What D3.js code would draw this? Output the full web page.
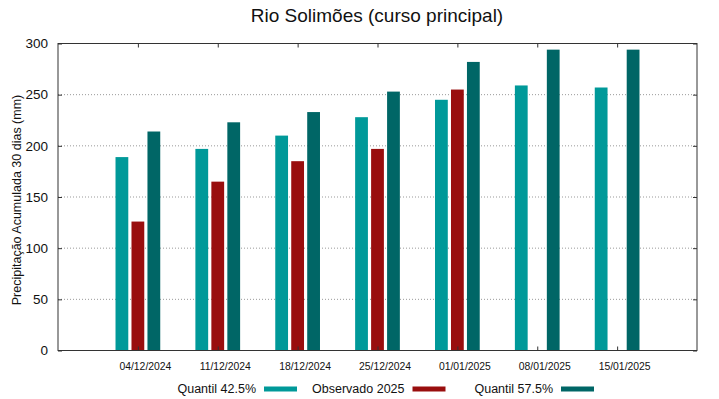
<!DOCTYPE html>
<html>
<head>
<meta charset="utf-8">
<script src="https://cdn.jsdelivr.net/npm/d3@7"></script>
<style>
    body { margin: 0; background: #fff; }
    text { font-family: "Liberation Sans", Arial, sans-serif; fill: #111; }
</style>
</head>
<body>
<div id="chart"></div>
<script>
// Data
const dates = ["04/12/2024", "11/12/2024", "18/12/2024", "25/12/2024", "01/01/2025", "08/01/2025", "15/01/2025"];
const q425 = [189, 197, 210, 228, 245, 259, 257];
const observed = [126, 165, 185, 197, 255, null, null];
const q575 = [214, 223, 233, 253, 282, 294, 294];
const yTicks = [0, 50, 100, 150, 200, 250, 300];

const series = [
    { name: "Quantil 42.5%", values: q425, color: "#009999", offset: -1 },
    { name: "Observado 2025", values: observed, color: "#990e0e", offset: 0 },
    { name: "Quantil 57.5%", values: q575, color: "#006666", offset: 1 }
];

const width = 719, height = 399;
const margin = { top: 43.5, right: 22, bottom: 48.5, left: 58 };
const font = "Liberation Sans, Arial, sans-serif";

const svg = d3.select("#chart").append("svg")
    .attr("width", width)
    .attr("height", height);

// category index scale, one slot per date with half a slot on each side
const x = d3.scaleLinear()
    .domain([-1, dates.length])
    .range([margin.left, width - margin.right]);

const y = d3.scaleLinear()
    .domain([0, 300])
    .range([height - margin.bottom, margin.top]);

const slot = x(1) - x(0);
const barStep = slot / 5;
const barWidth = barStep * 0.8;

// dotted grid
svg.append("g")
    .selectAll("line")
    .data(yTicks.filter(d => d > 0 && d < 300))
    .enter().append("line")
    .attr("x1", margin.left)
    .attr("x2", width - margin.right)
    .attr("y1", d => y(d))
    .attr("y2", d => y(d))
    .attr("stroke", "#999")
    .attr("stroke-width", 1)
    .attr("stroke-dasharray", "1,2");

// bars
series.forEach(s => {
    svg.append("g")
        .selectAll("rect")
        .data(s.values.map((v, i) => ({ v, i })).filter(d => d.v !== null))
        .enter().append("rect")
        .attr("x", d => x(d.i) + s.offset * barStep - barWidth / 2)
        .attr("width", barWidth)
        .attr("y", d => y(d.v))
        .attr("height", d => y(0) - y(d.v))
        .attr("fill", s.color);
});

// frame
svg.append("rect")
    .attr("x", margin.left)
    .attr("y", margin.top)
    .attr("width", width - margin.right - margin.left)
    .attr("height", height - margin.bottom - margin.top)
    .attr("fill", "none")
    .attr("stroke", "#333")
    .attr("stroke-width", 1);

// y axis (left labels, inward ticks both sides)
const yAxis = svg.append("g")
    .attr("transform", `translate(${margin.left},0)`)
    .call(d3.axisLeft(y).tickValues(yTicks).tickSize(-4).tickPadding(10));
yAxis.select(".domain").remove();
yAxis.selectAll("line").attr("stroke", "#333");
yAxis.selectAll("text").style("font-size", "13.5px").style("font-family", font).attr("fill", "#111");

const yAxisR = svg.append("g")
    .attr("transform", `translate(${width - margin.right},0)`)
    .call(d3.axisRight(y).tickValues(yTicks).tickSize(-4).tickFormat(""));
yAxisR.select(".domain").remove();
yAxisR.selectAll("line").attr("stroke", "#333");

// x axis: ticks inward at top and bottom, labels below (shifted right a bit like the original)
const xTop = svg.append("g")
    .attr("transform", `translate(0,${margin.top})`)
    .call(d3.axisTop(x).tickValues(d3.range(dates.length)).tickSize(-4).tickFormat(""));
xTop.select(".domain").remove();
xTop.selectAll("line").attr("stroke", "#333");

const xBottom = svg.append("g")
    .attr("transform", `translate(0,${height - margin.bottom})`)
    .call(d3.axisBottom(x).tickValues(d3.range(dates.length)).tickSize(-4).tickPadding(12).tickFormat(i => dates[i]));
xBottom.select(".domain").remove();
xBottom.selectAll("line").attr("stroke", "#333");
xBottom.selectAll("text")
    .attr("dx", 7)
    .style("font-size", "10.4px")
    .style("font-family", font)
    .attr("fill", "#111");

// title
svg.append("text")
    .attr("x", 377)
    .attr("y", 22)
    .attr("text-anchor", "middle")
    .style("font-size", "19px")
    .text("Rio Solimões (curso principal)");

// y axis label
svg.append("text")
    .attr("transform", `translate(21,200) rotate(-90)`)
    .attr("text-anchor", "middle")
    .style("font-size", "12.5px")
    .text("Precipitação Acumulada 30 dias (mm)");

// legend: text right-aligned before a colour sample
const legendY = 389;
const legendPos = [256, 404.5, 553];
series.forEach((s, i) => {
    svg.append("text")
        .attr("x", legendPos[i])
        .attr("y", legendY + 3.5)
        .attr("text-anchor", "end")
        .style("font-size", "12.5px")
        .text(s.name);
    svg.append("rect")
        .attr("x", legendPos[i] + 8)
        .attr("y", legendY - 2.5)
        .attr("width", 33)
        .attr("height", 5)
        .attr("fill", s.color);
});
</script>
</body>
</html>
